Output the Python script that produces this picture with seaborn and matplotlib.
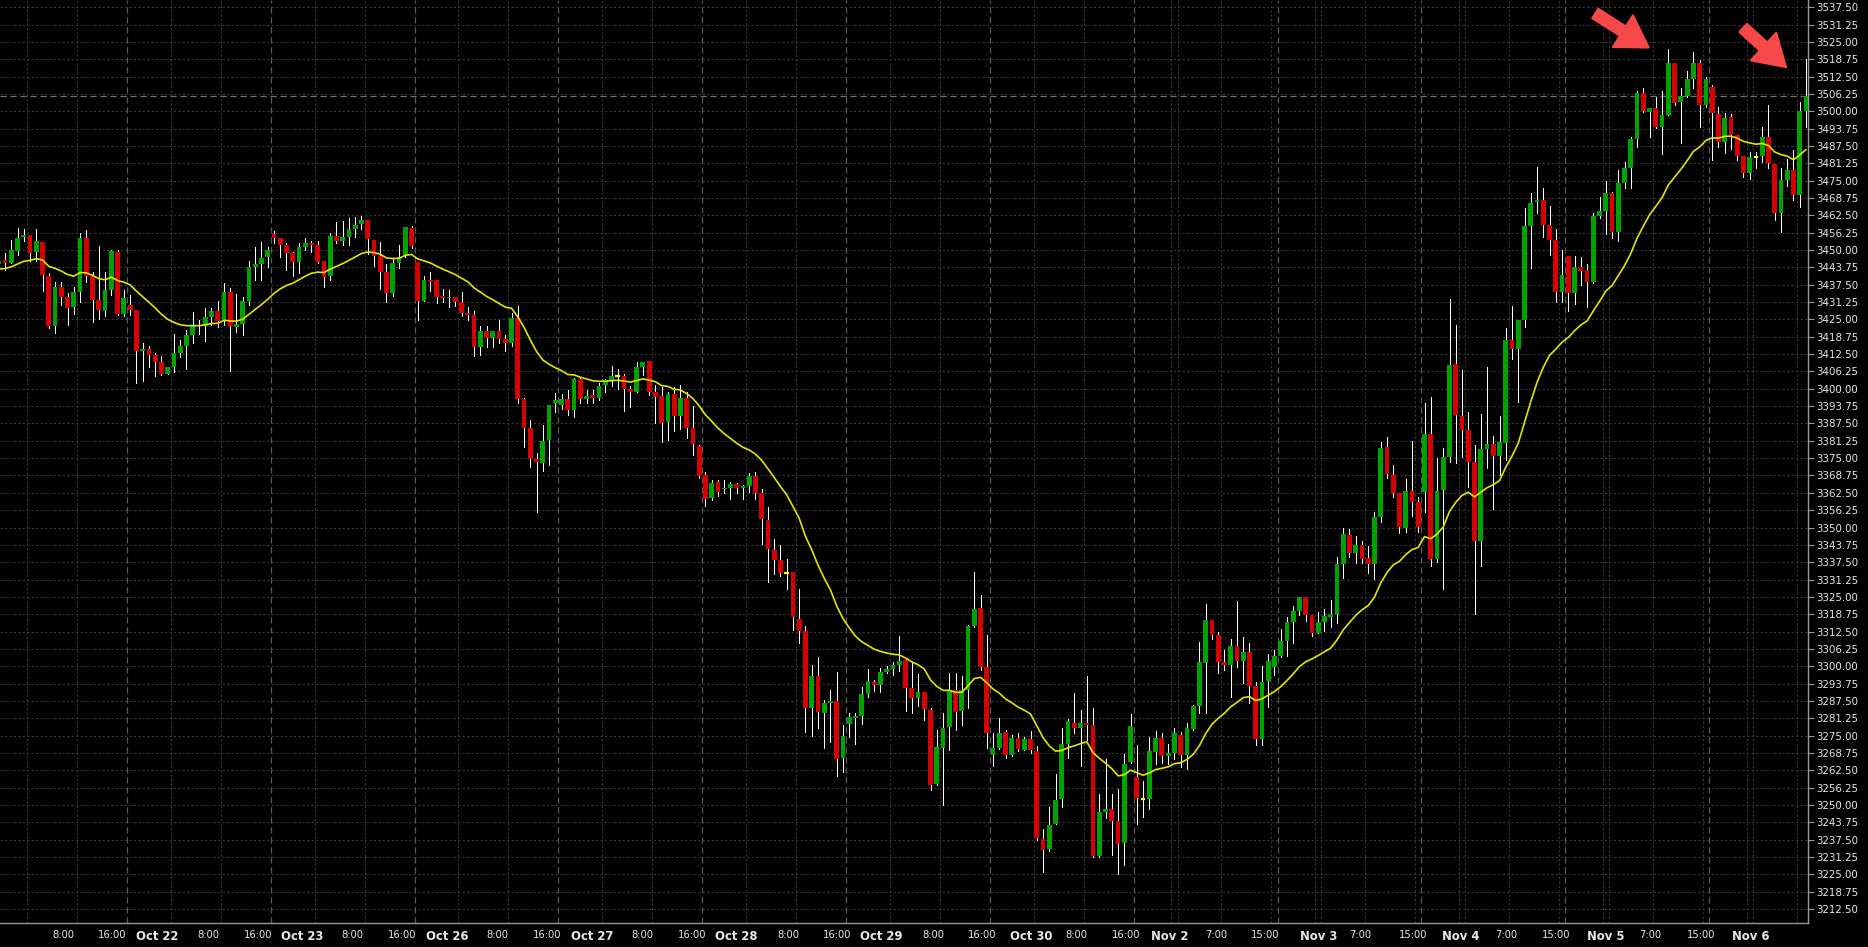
import numpy as np
import pandas as pd
import matplotlib
matplotlib.use("Agg")
import matplotlib.pyplot as plt
import seaborn as sns
from matplotlib.patches import FancyArrowPatch

# hourly bars, one row per session (the dashed day separators on the chart)
opens_by_day = [
    [3445.0, 3446.4, 3445.4, 3449.8, 3454.8, 3455.4, 3449.4, 3453.0, 3440.6, 3422.6, 3436.7, 3433.1, 3429.5, 3435.0, 3454.5, 3440.8, 3432.0, 3428.1, 3435.6, 3449.4, 3427.0],
    [3430.2, 3428.4, 3413.7, 3414.2, 3412.2, 3409.6, 3405.4, 3407.8, 3412.9, 3415.4, 3419.4, 3422.9, 3422.6, 3425.9, 3427.9, 3424.4, 3434.9, 3422.2, 3423.3, 3431.6, 3443.9, 3445.0, 3447.6],
    [3455.8, 3454.5, 3451.8, 3448.8, 3445.8, 3451.2, 3452.6, 3451.8, 3446.0, 3440.6, 3455.1, 3453.4, 3454.6, 3457.5, 3459.4, 3460.8, 3453.6, 3447.8, 3442.2, 3434.6, 3445.2, 3448.2, 3458.0],
    [3445.8, 3431.6, 3439.2, 3439.2, 3433.4, 3432.6, 3433.2, 3431.3, 3427.4, 3426.6, 3415.2, 3420.8, 3418.4, 3420.8, 3417.9, 3416.6, 3425.5, 3396.3, 3386.0, 3374.8, 3373.4, 3381.5, 3395.0],
    [3394.1, 3396.3, 3392.3, 3403.5, 3396.3, 3397.7, 3396.8, 3401.3, 3403.1, 3404.7, 3404.6, 3399.9, 3398.9, 3407.7, 3410.0, 3399.0, 3397.4, 3388.1, 3398.1, 3390.2, 3396.8, 3386.0, 3379.5],
    [3368.8, 3360.6, 3366.3, 3363.8, 3364.4, 3365.6, 3364.2, 3365.0, 3368.6, 3362.3, 3352.7, 3341.9, 3338.3, 3333.7, 3333.8, 3317.2, 3312.7, 3285.1, 3296.4, 3283.2, 3286.8, 3287.4, 3266.9],
    [3279.1, 3281.5, 3282.1, 3289.9, 3294.3, 3293.2, 3298.0, 3299.0, 3300.3, 3302.2, 3292.0, 3288.6, 3290.7, 3284.2, 3257.6, 3270.5, 3278.2, 3291.4, 3283.8, 3291.4, 3314.5, 3320.9, 3299.8],
    [3268.1, 3270.5, 3276.3, 3268.1, 3274.1, 3269.8, 3273.7, 3269.5, 3237.9, 3234.0, 3243.3, 3252.0, 3271.9, 3279.7, 3277.8, 3279.5, 3278.8, 3231.7, 3247.3, 3248.5, 3244.2, 3236.4, 3265.6],
    [3260.0, 3252.2, 3252.2, 3269.2, 3274.1, 3267.7, 3268.6, 3275.3, 3268.0, 3277.4, 3285.7, 3301.2, 3316.6, 3311.2, 3301.6, 3300.5, 3307.3, 3302.0, 3305.1, 3292.9, 3273.7, 3294.8, 3299.6],
    [3303.6, 3309.1, 3316.0, 3320.0, 3324.8, 3318.4, 3312.0, 3315.8, 3317.8, 3319.0, 3337.0, 3347.2, 3340.9, 3343.6, 3339.0, 3337.0, 3353.8, 3378.9, 3368.9, 3362.6, 3350.0, 3363.1, 3359.3],
    [3362.9, 3383.7, 3338.6, 3363.5, 3375.3, 3408.9, 3390.2, 3385.1, 3373.7, 3345.1, 3378.3, 3380.1, 3375.7, 3380.5, 3417.6, 3414.2, 3424.8, 3458.7, 3467.2, 3468.0, 3459.0, 3453.6, 3435.0],
    [3447.9, 3434.6, 3444.0, 3442.8, 3438.6, 3462.3, 3464.1, 3470.4, 3456.6, 3474.3, 3479.7, 3490.0, 3506.5, 3499.9, 3501.3, 3494.5, 3498.7, 3517.3, 3503.5, 3505.5, 3511.6, 3517.5, 3502.3],
    [3508.6, 3499.0, 3489.1, 3497.8, 3491.5, 3483.9, 3477.6, 3483.6, 3484.0, 3490.6, 3481.0, 3463.5, 3475.2, 3478.8, 3469.8, 3500.2],
]
highs_by_day = [
    [3447.5, 3449.0, 3453.6, 3458.1, 3457.6, 3455.4, 3457.6, 3453.0, 3441.8, 3438.5, 3438.5, 3434.4, 3436.8, 3456.0, 3457.2, 3442.0, 3451.4, 3442.2, 3450.0, 3450.0, 3435.5],
    [3433.8, 3428.4, 3416.4, 3415.4, 3413.0, 3411.8, 3408.0, 3419.6, 3417.6, 3421.2, 3427.7, 3424.8, 3429.1, 3429.1, 3431.5, 3438.0, 3436.4, 3434.1, 3433.2, 3446.0, 3451.2, 3453.0, 3451.2],
    [3457.0, 3454.5, 3452.4, 3449.4, 3452.4, 3454.2, 3453.4, 3453.4, 3446.0, 3456.3, 3460.1, 3460.5, 3461.4, 3461.8, 3462.3, 3460.8, 3453.6, 3453.0, 3445.0, 3447.0, 3451.8, 3458.2, 3458.5],
    [3445.8, 3440.6, 3442.2, 3439.2, 3435.8, 3435.6, 3433.2, 3435.0, 3429.6, 3428.1, 3422.6, 3422.6, 3420.8, 3424.8, 3419.4, 3427.2, 3429.8, 3396.5, 3388.7, 3376.7, 3386.9, 3394.1, 3398.6],
    [3398.1, 3399.5, 3403.8, 3403.8, 3399.5, 3399.5, 3402.0, 3403.4, 3408.2, 3407.0, 3405.3, 3401.1, 3409.8, 3409.8, 3410.0, 3401.3, 3400.7, 3398.9, 3400.5, 3401.3, 3398.9, 3393.8, 3379.8],
    [3370.1, 3367.1, 3367.1, 3367.1, 3366.3, 3365.9, 3365.5, 3369.7, 3370.1, 3363.7, 3357.5, 3345.8, 3343.7, 3338.5, 3333.8, 3328.0, 3314.5, 3300.4, 3303.4, 3288.0, 3291.4, 3298.0, 3278.8],
    [3283.0, 3283.0, 3292.6, 3298.9, 3295.0, 3299.2, 3300.1, 3301.6, 3310.9, 3302.6, 3301.0, 3297.2, 3290.7, 3284.8, 3277.0, 3283.0, 3297.4, 3297.6, 3296.4, 3314.8, 3334.0, 3325.6, 3311.2],
    [3275.8, 3281.2, 3277.0, 3275.2, 3276.1, 3274.6, 3276.7, 3271.2, 3241.4, 3249.3, 3261.3, 3277.6, 3280.8, 3290.5, 3284.2, 3296.4, 3284.8, 3253.9, 3266.4, 3254.1, 3255.6, 3268.3, 3282.7],
    [3271.6, 3258.6, 3274.6, 3276.6, 3275.8, 3271.9, 3277.6, 3276.4, 3279.4, 3286.2, 3308.8, 3322.4, 3316.6, 3312.4, 3305.8, 3309.8, 3323.5, 3310.6, 3308.2, 3294.4, 3300.0, 3304.4, 3306.0],
    [3313.3, 3317.8, 3321.7, 3324.8, 3324.8, 3318.4, 3319.4, 3320.8, 3323.8, 3339.4, 3349.7, 3349.4, 3346.9, 3345.1, 3343.3, 3355.7, 3380.9, 3382.5, 3372.5, 3362.6, 3367.4, 3381.1, 3361.0],
    [3394.9, 3397.1, 3374.9, 3378.5, 3432.2, 3423.0, 3406.7, 3391.7, 3379.7, 3390.9, 3408.0, 3383.0, 3390.2, 3421.8, 3429.8, 3424.8, 3465.0, 3470.4, 3480.1, 3472.2, 3465.9, 3457.5, 3450.0],
    [3447.9, 3447.9, 3447.6, 3445.0, 3463.2, 3469.2, 3475.0, 3471.0, 3478.8, 3481.9, 3490.9, 3507.5, 3508.3, 3501.3, 3505.3, 3507.4, 3522.3, 3517.3, 3508.3, 3514.6, 3521.3, 3518.5, 3512.5],
    [3509.5, 3501.7, 3499.5, 3499.0, 3491.5, 3483.9, 3485.5, 3485.5, 3494.5, 3502.3, 3481.0, 3479.4, 3482.7, 3486.1, 3503.5, 3518.7],
]
lows_by_day = [
    [3444.0, 3442.8, 3445.4, 3448.2, 3453.4, 3446.2, 3446.0, 3435.4, 3422.0, 3420.2, 3430.2, 3423.1, 3427.0, 3431.4, 3438.5, 3424.2, 3425.0, 3426.2, 3433.8, 3426.6, 3426.2],
    [3426.6, 3402.2, 3402.8, 3407.9, 3404.7, 3404.9, 3405.2, 3406.1, 3411.3, 3407.1, 3416.6, 3419.7, 3417.3, 3423.0, 3422.1, 3423.0, 3406.4, 3420.6, 3419.4, 3430.2, 3439.2, 3439.2, 3443.8],
    [3452.6, 3447.6, 3442.8, 3440.6, 3441.8, 3450.2, 3449.4, 3445.2, 3436.8, 3439.2, 3452.4, 3451.8, 3451.8, 3454.8, 3457.5, 3448.6, 3444.2, 3435.8, 3431.4, 3433.4, 3443.4, 3447.6, 3450.6],
    [3424.8, 3431.6, 3435.4, 3431.0, 3431.4, 3429.3, 3429.8, 3426.2, 3424.8, 3411.8, 3412.1, 3415.2, 3415.2, 3416.6, 3413.7, 3415.4, 3395.0, 3379.1, 3371.9, 3355.7, 3370.5, 3372.5, 3391.8],
    [3392.6, 3390.5, 3389.9, 3394.7, 3395.0, 3395.0, 3396.0, 3399.0, 3401.0, 3399.8, 3392.1, 3393.3, 3398.9, 3405.0, 3397.7, 3387.5, 3380.9, 3381.5, 3384.9, 3385.5, 3382.4, 3376.0, 3367.7],
    [3357.7, 3359.9, 3361.5, 3362.3, 3360.2, 3362.3, 3360.1, 3362.9, 3360.2, 3344.0, 3330.4, 3333.1, 3332.5, 3328.0, 3313.0, 3308.5, 3276.4, 3274.8, 3277.6, 3270.7, 3272.8, 3260.5, 3261.7],
    [3274.6, 3271.9, 3279.1, 3289.0, 3291.2, 3290.8, 3297.4, 3296.8, 3298.4, 3283.9, 3283.0, 3285.8, 3280.6, 3255.3, 3257.2, 3249.9, 3269.8, 3277.0, 3278.8, 3284.8, 3314.0, 3298.6, 3270.4],
    [3264.0, 3270.0, 3267.0, 3267.6, 3269.5, 3269.8, 3268.6, 3237.3, 3225.9, 3233.5, 3243.3, 3249.3, 3267.1, 3275.8, 3264.1, 3273.4, 3231.1, 3231.1, 3245.3, 3231.9, 3225.0, 3228.3, 3265.0],
    [3243.3, 3245.7, 3248.7, 3264.7, 3265.2, 3264.7, 3266.5, 3263.5, 3262.8, 3277.0, 3283.2, 3283.2, 3309.7, 3297.4, 3298.6, 3289.0, 3299.8, 3293.8, 3286.6, 3271.6, 3271.6, 3285.4, 3296.8],
    [3303.4, 3303.6, 3308.2, 3318.4, 3316.4, 3310.8, 3312.0, 3312.8, 3314.2, 3315.4, 3331.9, 3339.4, 3337.3, 3337.3, 3333.7, 3331.3, 3352.1, 3368.0, 3361.1, 3347.9, 3348.5, 3354.1, 3348.5],
    [3355.7, 3336.2, 3337.6, 3328.0, 3373.7, 3373.1, 3375.5, 3364.7, 3318.8, 3336.2, 3371.6, 3356.6, 3368.9, 3374.3, 3410.6, 3395.3, 3422.4, 3443.6, 3463.2, 3454.8, 3448.2, 3431.4, 3431.4],
    [3428.1, 3430.5, 3437.4, 3429.6, 3438.2, 3461.4, 3455.8, 3454.2, 3453.4, 3472.3, 3472.3, 3487.2, 3499.8, 3490.9, 3493.9, 3484.6, 3498.7, 3502.3, 3488.7, 3505.0, 3508.3, 3494.5, 3501.7],
    [3482.4, 3487.0, 3485.1, 3486.3, 3482.4, 3476.4, 3475.6, 3479.4, 3481.8, 3479.4, 3460.8, 3456.6, 3473.1, 3468.0, 3465.4, 3494.5],
]
closes_by_day = [
    [3446.2, 3445.4, 3450.0, 3454.5, 3455.4, 3449.1, 3453.3, 3441.0, 3422.6, 3436.7, 3433.2, 3429.2, 3434.9, 3454.5, 3440.8, 3432.0, 3428.4, 3435.6, 3449.6, 3427.0, 3432.9],
    [3428.4, 3413.7, 3414.2, 3412.2, 3409.6, 3405.4, 3407.8, 3412.9, 3415.4, 3419.4, 3422.9, 3422.6, 3425.9, 3427.9, 3424.4, 3434.9, 3422.7, 3423.3, 3431.6, 3443.9, 3445.1, 3447.0, 3450.2],
    [3454.5, 3451.8, 3448.8, 3445.8, 3451.2, 3452.6, 3452.0, 3445.8, 3440.4, 3455.1, 3453.4, 3454.6, 3457.5, 3459.0, 3460.8, 3453.9, 3447.8, 3442.2, 3434.6, 3445.2, 3447.6, 3458.2, 3451.6],
    [3431.6, 3439.2, 3438.6, 3433.2, 3432.8, 3433.2, 3431.4, 3427.4, 3426.6, 3415.2, 3420.8, 3418.4, 3420.8, 3417.9, 3416.6, 3425.5, 3396.3, 3386.0, 3374.8, 3373.7, 3381.3, 3394.1, 3395.8],
    [3396.3, 3392.3, 3403.5, 3396.3, 3397.4, 3396.8, 3401.0, 3403.1, 3404.6, 3404.7, 3400.1, 3398.9, 3407.7, 3409.5, 3399.0, 3397.1, 3387.8, 3398.1, 3390.2, 3396.8, 3386.0, 3380.0, 3368.5],
    [3360.2, 3365.9, 3362.9, 3364.4, 3365.6, 3364.2, 3364.9, 3368.6, 3362.5, 3353.0, 3342.1, 3338.3, 3333.7, 3333.7, 3317.6, 3312.8, 3285.1, 3296.4, 3283.6, 3286.6, 3287.4, 3266.6, 3274.8],
    [3281.8, 3282.1, 3289.9, 3294.6, 3293.3, 3297.9, 3299.0, 3300.3, 3301.9, 3292.2, 3288.6, 3290.7, 3284.5, 3257.2, 3270.9, 3277.7, 3291.4, 3283.6, 3291.4, 3314.5, 3320.6, 3299.8, 3275.8],
    [3270.5, 3276.0, 3268.1, 3274.1, 3270.1, 3273.7, 3269.8, 3238.2, 3233.7, 3242.7, 3251.7, 3271.9, 3280.2, 3277.6, 3279.7, 3278.9, 3231.7, 3247.3, 3248.5, 3244.2, 3235.9, 3264.9, 3278.4],
    [3252.6, 3252.2, 3269.4, 3274.1, 3267.7, 3268.6, 3275.9, 3268.0, 3277.7, 3285.6, 3301.5, 3316.6, 3311.2, 3301.6, 3300.5, 3307.3, 3302.0, 3305.1, 3292.9, 3273.7, 3294.3, 3301.9, 3303.6],
    [3309.1, 3316.0, 3320.0, 3324.8, 3318.4, 3312.0, 3315.8, 3318.0, 3319.0, 3337.0, 3347.6, 3340.9, 3343.6, 3338.6, 3337.0, 3353.8, 3378.5, 3369.3, 3362.6, 3350.3, 3363.1, 3359.3, 3350.3],
    [3383.7, 3338.6, 3363.1, 3375.3, 3408.6, 3390.5, 3385.1, 3373.7, 3345.1, 3378.3, 3380.1, 3375.7, 3380.9, 3417.6, 3414.2, 3424.8, 3458.7, 3466.8, 3468.0, 3459.0, 3453.6, 3435.0, 3440.9],
    [3434.6, 3444.0, 3442.6, 3438.6, 3462.3, 3464.1, 3470.4, 3456.6, 3474.3, 3479.5, 3489.9, 3506.7, 3500.2, 3501.3, 3494.5, 3498.7, 3517.3, 3503.1, 3505.5, 3511.6, 3517.5, 3502.3, 3511.7],
    [3499.5, 3489.1, 3497.5, 3491.5, 3484.0, 3477.9, 3483.4, 3483.6, 3490.6, 3481.2, 3463.2, 3475.2, 3478.8, 3469.8, 3500.2, 3505.5],
]

ma_prev = 3442.8   # moving average value just left of the first bar
ma_span = 20

tick_pos = [10.4, 18.2, 25.3, 33.5, 41.4, 48.5, 56.6, 64.5, 71.7, 79.8, 87.7, 94.9,
            103.0, 110.9, 118.0, 126.2, 134.1, 141.1, 149.4, 157.2, 165.1, 172.4, 180.3,
            187.3, 194.7, 202.5, 211.0, 217.8, 226.2, 233.8, 241.0, 249.0, 256.9, 264.1,
            272.2, 280.1]
tick_labels = ["8:00", "16:00", "Oct 22", "8:00", "16:00", "Oct 23", "8:00", "16:00", "Oct 26",
               "8:00", "16:00", "Oct 27", "8:00", "16:00", "Oct 28", "8:00", "16:00", "Oct 29",
               "8:00", "16:00", "Oct 30", "8:00", "16:00", "Nov 2", "7:00", "15:00", "Nov 3",
               "7:00", "15:00", "Nov 4", "7:00", "15:00", "Nov 5", "7:00", "15:00", "Nov 6"]
session_starts = [-2.5, 20.5, 43.5, 66.5, 89.5, 112.5, 135.5, 158.5, 181.5, 204.5, 227.5, 250.5, 273.5]

flat = lambda rows: [v for r in rows for v in r]
df = pd.DataFrame({
    "open": flat(opens_by_day), "high": flat(highs_by_day),
    "low": flat(lows_by_day), "close": flat(closes_by_day),
})
df["bar"] = np.arange(len(df))
df["ma"] = pd.Series([ma_prev] + df["close"].tolist()).ewm(span=ma_span, adjust=False).mean().iloc[1:].values

BG = "#000000"
UP, DOWN = "#00a300", "#d80000"

sns.set_style("dark", {"axes.facecolor": BG, "figure.facecolor": BG})
plt.rcParams["font.family"] = ["DejaVu Sans"]

fig = plt.figure(figsize=(18.68, 9.47), dpi=100, facecolor=BG)
ax = fig.add_axes([0, 24 / 947, 1808 / 1868, 923 / 947])
ax.set_facecolor(BG)

xlo, xhi = 0.19, 289.33
ylo, yhi = 3207.45, 3540.13
price_ticks = np.arange(3212.5, 3537.6, 6.25)

# grid
ax.hlines(price_ticks, xlo, xhi, colors="#363636", linestyles=(0, (2, 2)), lw=0.8, zorder=0)
for i, d in enumerate(session_starts):
    if d > 0:
        ax.axvline(d, color="#5a5a5a", ls=(0, (5, 3)), lw=0.9, zorder=0)
    offs = [7, 15] if d < 180 else [6, 7, 14, 22]
    for o in offs:
        ax.axvline(d + o, color="#363636", ls=(0, (2, 2)), lw=0.8, zorder=0)

# current price line
ax.axhline(df["close"].iloc[-1], color="#707070", ls=(0, (5, 3)), lw=0.9, zorder=1)

# candles
x = df["bar"].values
o, h, l, c = df["open"].values, df["high"].values, df["low"].values, df["close"].values
ax.vlines(x, l, h, color="white", lw=0.72, zorder=2, antialiased=False)
body = c != o
cols = np.where(c > o, UP, DOWN)
ax.bar(x[body], np.abs(c - o)[body], bottom=np.minimum(o, c)[body], width=0.76,
       color=cols[body], linewidth=0, zorder=3)
doji = ~body
ax.hlines(c[doji], x[doji] - 0.38, x[doji] + 0.38, color="#ffff00", lw=1.6, zorder=3)

# moving average
sns.lineplot(data=df, x="bar", y="ma", ax=ax, color="#e4e400", lw=1.2, zorder=4, legend=False)

ax.set_xlim(xlo, xhi)
ax.set_ylim(ylo, yhi)
ax.set_xlabel("")
ax.set_ylabel("")
ax.grid(False)

ax.yaxis.tick_right()
ax.set_yticks(price_ticks)
ax.set_yticklabels([f"{v:.2f}" for v in price_ticks])
ax.tick_params(axis="y", right=True, left=False, length=4, width=0.8, color="#9a9a9a",
               labelcolor="#e8e8e8", labelsize=7.4, pad=2)
ax.set_xticks(tick_pos)
ax.set_xticklabels(tick_labels)
ax.tick_params(axis="x", bottom=True, length=0, labelcolor="#e8e8e8", labelsize=7.2, pad=5)
for lab in ax.get_xticklabels():
    if lab.get_text()[:3] in ("Oct", "Nov"):
        lab.set_fontweight("bold")
        lab.set_fontsize(8.4)

for side in ("left", "top"):
    ax.spines[side].set_visible(False)
for side in ("right", "bottom"):
    ax.spines[side].set_color("#9a9a9a")
    ax.spines[side].set_linewidth(1)

# red arrows pointing at the two highs
for tail, tip in [((0.8810, 0.9870), (0.9132, 0.9469)), ((0.9630, 0.9718), (0.9890, 0.9252))]:
    ax.add_patch(FancyArrowPatch(tail, tip, transform=ax.transAxes,
                                 arrowstyle="simple,head_length=22,head_width=27,tail_width=8",
                                 mutation_scale=1, color="#f64848", lw=1.5,
                                 joinstyle="round", capstyle="round", zorder=6,
                                 clip_on=False))

fig.savefig("out.png", dpi=100, facecolor=BG)
